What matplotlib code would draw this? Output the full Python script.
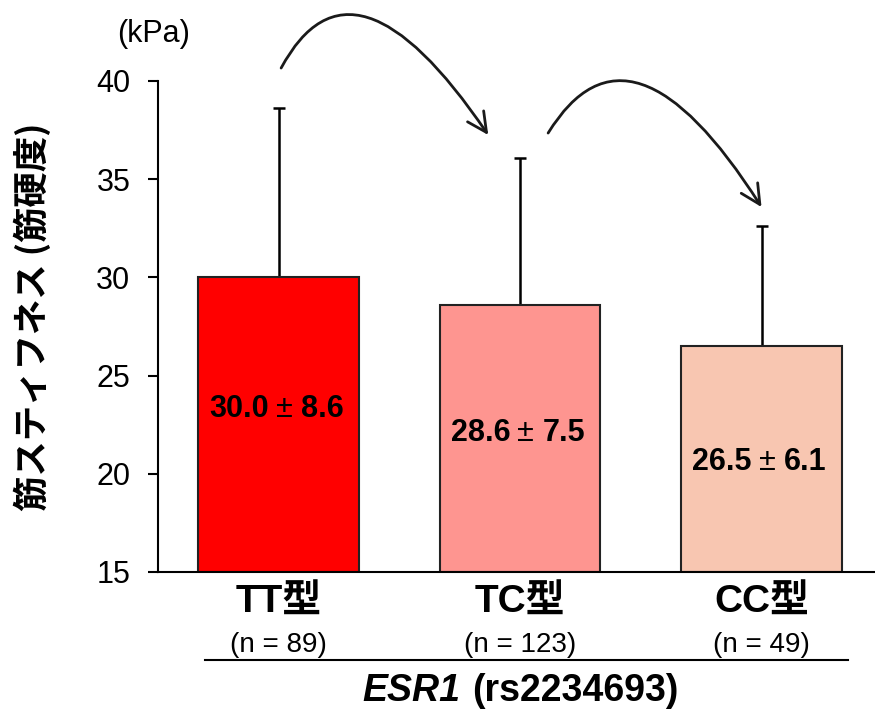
import matplotlib
matplotlib.use("Agg")
import matplotlib.pyplot as plt
from matplotlib.path import Path
from matplotlib.patches import FancyArrowPatch
from matplotlib.transforms import blended_transform_factory

categories = ["TT型", "TC型", "CC型"]
n_labels = ["(n = 89)", "(n = 123)", "(n = 49)"]
means = [30.0, 28.6, 26.5]
sds = [8.6, 7.5, 6.1]
colors = ["#FF0000", "#FE9590", "#F8C6B1"]
yticks = [15, 20, 25, 30, 35, 40]

LAT = ["Liberation Sans", "Noto Sans CJK JP", "DejaVu Sans"]
CJK = ["Noto Sans CJK JP", "DejaVu Sans"]
plt.rcParams["font.family"] = LAT

W, H = 875, 709
fig = plt.figure(figsize=(W / 100, H / 100), dpi=100)
ax = fig.add_axes([158 / W, 1 - 572 / H, 1 - 158 / W, (572 - 81) / H])

x = list(range(len(categories)))
ax.bar(x, [m - 15 for m in means], bottom=15, width=0.665, color=colors,
       edgecolor="#222222", linewidth=1.5, zorder=2)
ax.errorbar(x, means, yerr=[[0] * len(sds), sds], fmt="none", ecolor="black",
            elinewidth=1.8, capsize=4, capthick=1.8, zorder=1)

ax.set_xlim(-0.5, 2.47)
ax.set_ylim(15, 40)
ax.set_yticks(yticks)
ax.set_yticklabels([str(t) for t in yticks], fontsize=22)
ax.set_xticks([])
for s in ["top", "right"]:
    ax.spines[s].set_visible(False)
ax.spines["left"].set_linewidth(1.5)
ax.spines["bottom"].set_linewidth(1.5)
ax.tick_params(axis="y", length=7, width=1.5, pad=13)

# value labels inside bars: "mean ± sd" with a wide ± sign
label_y = [23.3, 22.1, 20.6]
for xi, ly, m, s in zip(x, label_y, means, sds):
    ax.annotate(f"{m:.1f}", (xi, ly), xytext=(-7, 0), textcoords="offset points",
                ha="right", va="center", fontsize=22, fontweight="bold", zorder=3)
    ax.annotate("±", (xi, ly), xytext=(4, 0), textcoords="offset points",
                ha="center", va="center", fontsize=22, zorder=3)
    ax.annotate(f"{s:.1f}", (xi, ly), xytext=(16, 0), textcoords="offset points",
                ha="left", va="center", fontsize=22, fontweight="bold", zorder=3)

# category labels below
tr = blended_transform_factory(ax.transData, fig.transFigure)
for xi, c, nl in zip(x, categories, n_labels):
    ax.text(xi, 1 - 613 / H, c, transform=tr, ha="center", va="baseline",
            fontsize=28, fontweight="bold")
    ax.text(xi, 1 - 652 / H, nl, transform=tr, ha="center", va="baseline",
            fontsize=20)

# group line and gene label
fig.add_artist(plt.Line2D([205 / W, 848 / W], [1 - 660 / H, 1 - 660 / H],
                          color="black", linewidth=1.5))
fig.text(460 / W, 1 - 701 / H, "ESR1", ha="right", va="baseline", fontsize=27,
         fontweight="bold", fontstyle="italic")
fig.text(472 / W, 1 - 701 / H, "(rs2234693)", ha="left", va="baseline",
         fontsize=27, fontweight="bold")

# unit and y label
fig.text(154 / W, 1 - 34 / H, "(kPa)", ha="center", va="center", fontsize=22)
fig.text(32 / W, 1 - 317 / H, "筋スティフネス (筋硬度)", rotation=90, ha="center",
         va="center", fontsize=25.5, fontweight="bold", family=CJK)

# curved arrows
def curved_arrow(p0, c, p1):
    path = Path([p0, c, p1], [Path.MOVETO, Path.CURVE3, Path.CURVE3])
    arr = FancyArrowPatch(path=path, arrowstyle="->,head_length=0.7,head_width=0.35",
                          mutation_scale=20, color="#1a1a1a", linewidth=2.0,
                          transform=ax.transData, clip_on=False)
    ax.add_patch(arr)

curved_arrow((0.01, 40.66), (0.306, 47.43), (0.868, 37.25))
curved_arrow((1.116, 37.35), (1.455, 44.12), (2.0, 33.58))

fig.savefig("out.png", dpi=100)
